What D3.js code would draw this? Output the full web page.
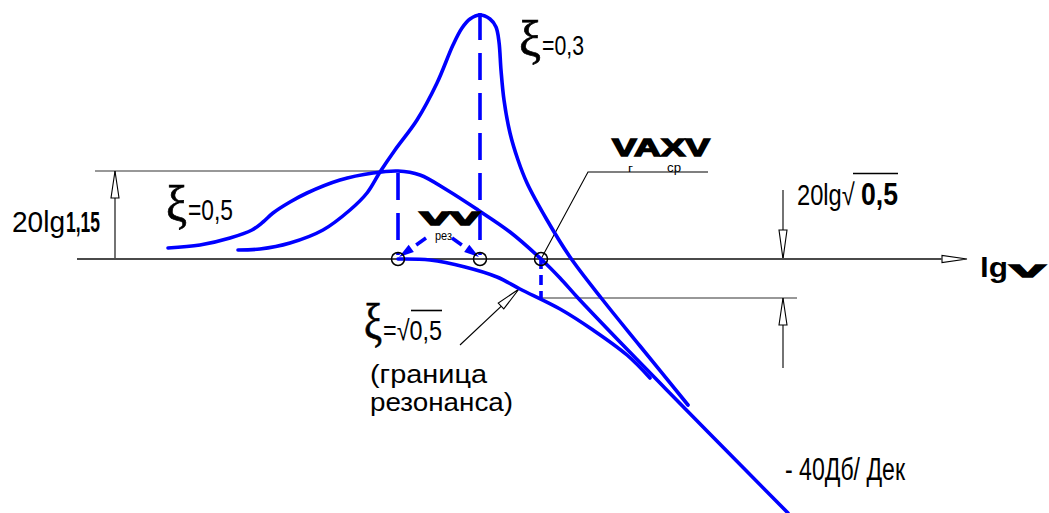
<!DOCTYPE html>
<html><head><meta charset="utf-8">
<script src="https://cdn.jsdelivr.net/npm/d3@7"></script>
<style>
html,body{margin:0;padding:0;background:#fff;}
svg{display:block;}
text{font-family:"Liberation Sans Narrow","Arial Narrow","Liberation Sans",Arial,sans-serif;fill:#000;}
.greek{font-family:"Liberation Serif","DejaVu Serif",serif;}
</style></head><body>
<svg id="chart" width="1049" height="513"></svg>
<script>
// Amplitude responses of a second-order link for three damping ratios.
// x: lg ν in schematic units measured from ν_ср, y: level in schematic units (0 = axis).
const xi03 = [[-3.03,0.9],[-2.81,1.0],[-2.51,1.6],[-2.18,2.9],[-1.91,4.9],[-1.74,6.6],[-1.61,8.7],[-1.46,10.9],[-1.24,13.9],[-1.04,17.6],[-0.88,21.4],[-0.79,23.1],[-0.71,24.0],[-0.61,24.4],[-0.51,24.0],[-0.45,23.2],[-0.42,21.7],[-0.40,18.9],[-0.37,15.9],[-0.31,12.6],[-0.23,9.9],[-0.14,7.6],[0.06,3.9],[0.29,0.2],[0.61,-4.0],[0.99,-8.7],[1.47,-14.6]];
const xi05 = [[-3.73,1.1],[-3.41,1.4],[-3.11,2.1],[-2.89,2.9],[-2.78,3.7],[-2.68,4.6],[-2.51,5.7],[-2.34,6.6],[-2.01,7.9],[-1.68,8.6],[-1.43,8.8],[-1.21,8.4],[-0.94,6.9],[-0.63,4.9],[-0.31,2.7],[0,0],[0.19,-1.9],[0.37,-3.9],[0.79,-8.3],[1.19,-12.4],[1.67,-17.3],[2.47,-25.4]];
const xiSqrt = [[-1.43,0],[-1.11,-0.1],[-0.76,-0.8],[-0.44,-1.8],[-0.21,-3.0],[0.19,-5.0],[0.52,-7.1],[0.86,-9.6],[1.09,-11.9]];

// characteristic frequencies and levels
const nuRes05 = -1.43, nuRes03 = -0.61, nuCp = 0;
const peak05 = 8.8, peak03 = 24.4, cutLevel = -3.9;

const svg = d3.select("#chart");
const x = d3.scaleLinear().domain([-5.41, 5.08]).range([0, 1049]);
const y = d3.scaleLinear().domain([-25.4, 25.9]).range([513, 0]);

const BLUE = "#0000ff";
const line = d3.line().x(d => x(d[0])).y(d => y(d[1])).curve(d3.curveCatmullRom.alpha(0.5));

// ---------- thin construction lines ----------
const thin = svg.append("g").attr("fill", "none").attr("stroke", "#000").attr("stroke-width", 1.1);

function openArrow(g, tx, ty, bx, by, hw) {
  const dx = tx - bx, dy = ty - by, L = Math.hypot(dx, dy);
  const nx = -dy / L * hw, ny = dx / L * hw;
  g.append("path").attr("d", `M${tx},${ty}L${bx + nx},${by + ny}L${bx - nx},${by - ny}Z`)
    .attr("fill", "#fff").attr("stroke", "#000").attr("stroke-width", 1.1);
}

// lg ν axis
svg.append("line").attr("x1", 77).attr("x2", 942).attr("y1", y(0)).attr("y2", y(0))
  .attr("stroke", "#4a4a4a").attr("stroke-width", 2);
openArrow(thin, 967, y(0), 942, y(0), 3.5);

// 20lg1,15 dimension
thin.append("line").attr("x1", 95).attr("x2", x(nuRes05)).attr("y1", y(peak05)).attr("y2", y(peak05)).attr("stroke", "#333");
thin.append("line").attr("x1", 115).attr("x2", 115).attr("y1", y(peak05)).attr("y2", y(0));
openArrow(thin, 115, y(peak05), 115, y(peak05) + 27, 4);

// 20lg√0,5 dimension
thin.append("line").attr("x1", x(nuCp)).attr("x2", 797).attr("y1", y(cutLevel)).attr("y2", y(cutLevel)).attr("stroke", "#333");
thin.append("line").attr("x1", 783).attr("x2", 783).attr("y1", 190).attr("y2", y(0));
openArrow(thin, 783, y(0), 783, y(0) - 29, 4);
thin.append("line").attr("x1", 783).attr("x2", 783).attr("y1", y(cutLevel)).attr("y2", 368);
openArrow(thin, 783, y(cutLevel), 783, y(cutLevel) + 27, 4);

// leader to ν_ср
thin.append("polyline").attr("points", `${x(nuCp)},${y(0)} 588,172 708,172`);

// leader to the boundary curve
thin.append("line").attr("x1", 460).attr("y1", 345).attr("x2", 512).attr("y2", 296);
openArrow(thin, 519, 289, 501, 306, 4);

// ---------- curves ----------
const curves = svg.append("g").attr("fill", "none").attr("stroke", BLUE)
  .attr("stroke-width", 3.6).attr("stroke-linecap", "round").attr("stroke-linejoin", "round");
[xi05, xi03, xiSqrt].forEach(d => curves.append("path").attr("d", line(d)));

// dashed verticals
const dash = svg.append("g").attr("stroke", BLUE).attr("stroke-width", 3.6).attr("stroke-dasharray", "27,13");
dash.append("line").attr("x1", x(nuRes05)).attr("x2", x(nuRes05)).attr("y1", y(peak05) + 2).attr("y2", y(0) - 4);
dash.append("line").attr("x1", x(nuRes03)).attr("x2", x(nuRes03)).attr("y1", y(peak03) - 2).attr("y2", y(0) - 4);
dash.append("line").attr("x1", x(nuCp)).attr("x2", x(nuCp)).attr("y1", y(0)).attr("y2", y(cutLevel))
  .attr("stroke-dasharray", "10,6");

// ν_рез pointers
function bluePointer(sx, sy, tx, ty) {
  const dx = tx - sx, dy = ty - sy, L = Math.hypot(dx, dy), ux = dx / L, uy = dy / L;
  const bx = tx - ux * 15, by = ty - uy * 15;
  svg.append("line").attr("x1", sx).attr("y1", sy).attr("x2", sx + ux * 12).attr("y2", sy + uy * 12)
    .attr("stroke", BLUE).attr("stroke-width", 3.6);
  svg.append("path").attr("d", `M${tx},${ty}L${bx - uy * 4.5},${by + ux * 4.5}L${bx + uy * 4.5},${by - ux * 4.5}Z`)
    .attr("fill", BLUE);
}
bluePointer(426, 238, x(nuRes05) + 1, y(0) - 2);
bluePointer(452, 238, x(nuRes03) - 1, y(0) - 2);

// characteristic points
svg.append("g").selectAll("circle").data([nuRes05, nuRes03, nuCp]).join("circle")
  .attr("cx", d => x(d)).attr("cy", y(0)).attr("r", 6.5)
  .attr("fill", "none").attr("stroke", "#000").attr("stroke-width", 1.5);

// ---------- labels ----------
// label(x0, x1, baseline, text, size, weight, class, heavy stroke)
function label(x0, x1, ty, str, size, weight, cls, heavy) {
  const t = svg.append("text").attr("x", x0).attr("y", ty).attr("font-size", size)
    .attr("font-weight", weight || "normal").text(str)
    .attr("textLength", x1 - x0).attr("lengthAdjust", "spacingAndGlyphs");
  if (cls) t.attr("class", cls);
  if (heavy) t.attr("stroke", "#000").attr("stroke-width", heavy);
  return t;
}
function overline(x1, x2, yy) {
  svg.append("line").attr("x1", x1).attr("x2", x2).attr("y1", yy).attr("y2", yy)
    .attr("stroke", "#000").attr("stroke-width", 1.6);
}

label(12, 65, 232, "20lg", 30);
label(66, 100, 232, "1,15", 30, "bold");

label(519, 541, 56, "ξ", 50, "normal", "greek", 0.7);
label(542, 584, 55, "=0,3", 27);
label(166, 187, 221, "ξ", 50, "normal", "greek", 0.7);
label(188, 233, 220, "=0,5", 30);

label(364, 382, 339, "ξ", 50, "normal", "greek", 0.7);
label(383, 442, 340, "=√0,5", 28);
overline(411, 442, 310.5);

label(370, 487, 383, "(граница", 26);
label(370, 513, 411, "резонанса)", 26);

label(785, 905, 480, "- 40Дб/ Дек", 31);

// condensed by a horizontal scale so that its box ends before the bold radicand
svg.append("text").attr("transform", "translate(797,205) scale(0.79,1)")
  .attr("font-size", 30).text("20lg√");
label(861, 898, 205, "0,5", 31, "bold");
overline(853, 898, 173.5);

label(980, 1008, 277, "lg", 28, "bold");
label(1010, 1045, 277, "V", 17, "bold", null, 1.4);

label(420, 480, 225, "VV", 19, "bold", null, 1.6);
label(435, 452, 240, "рез", 13).attr("fill", "#555");

label(612, 710, 156, "VAXV", 23, "bold", null, 1.3);
label(628, 633, 172, "г", 11.5).attr("fill", "#555");
label(667, 681, 172, "ср", 12.5).attr("fill", "#555");
</script>
</body></html>
